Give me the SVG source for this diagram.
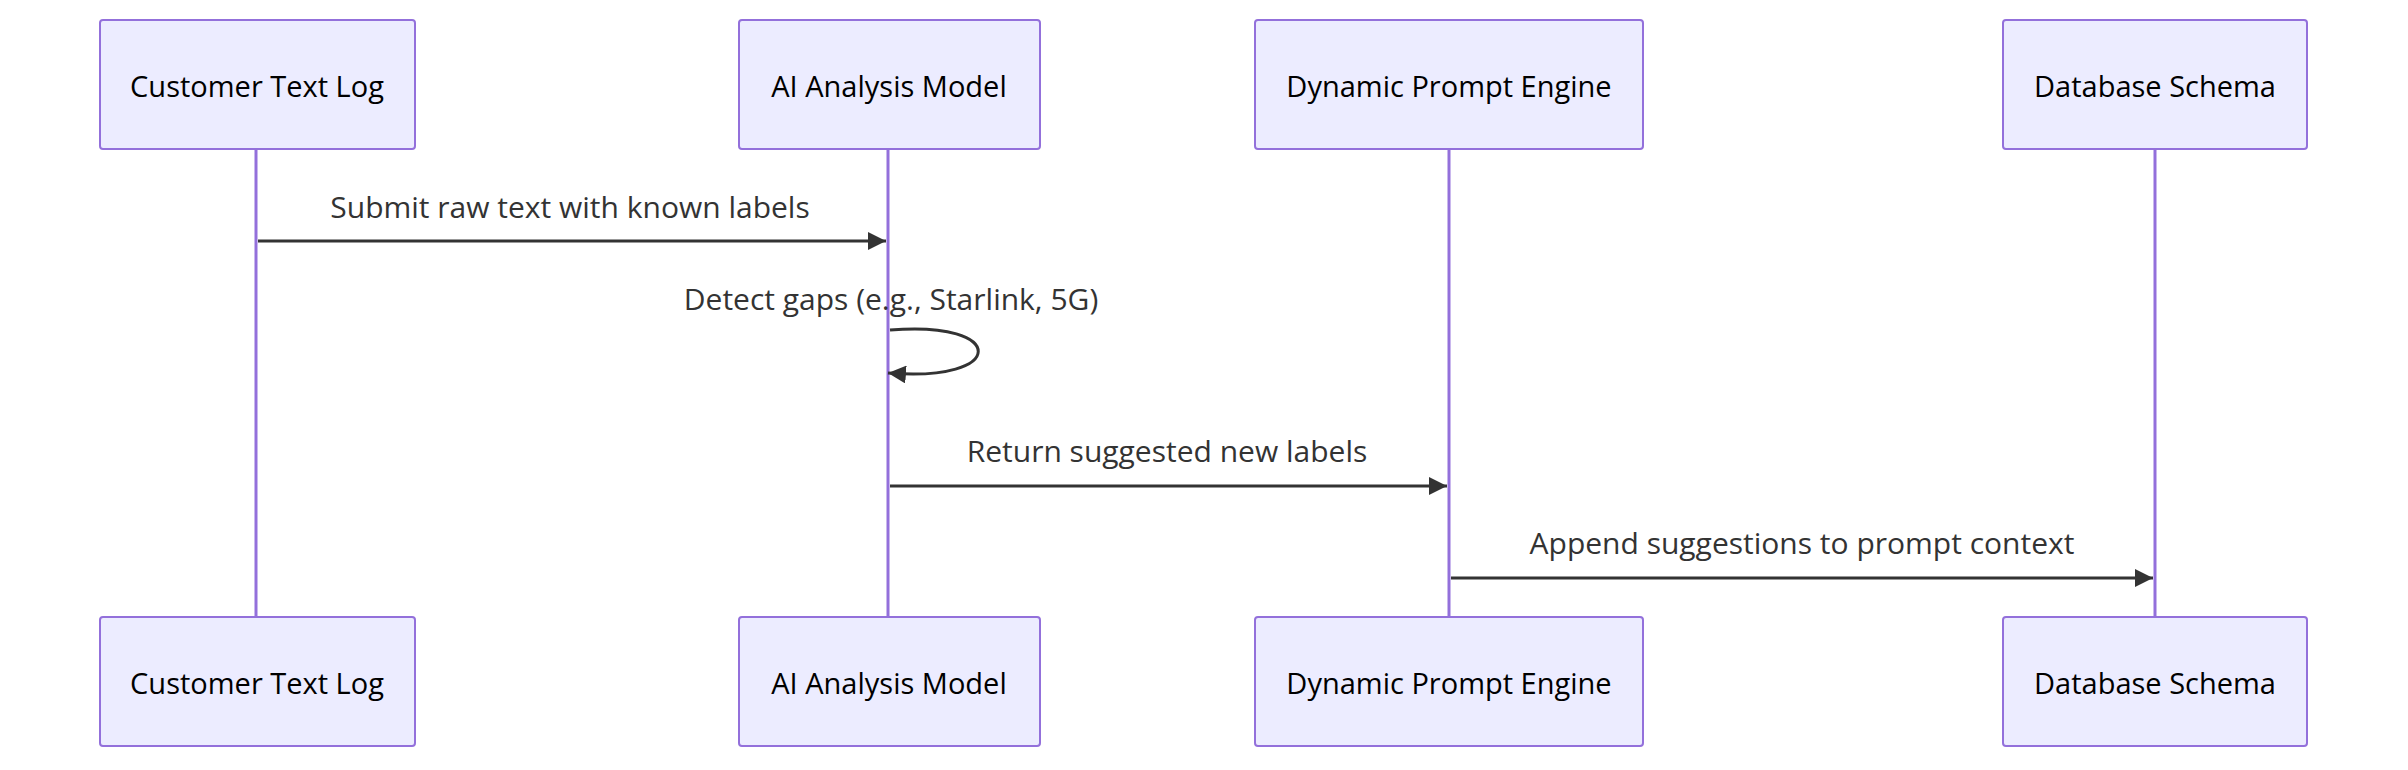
<svg xmlns="http://www.w3.org/2000/svg" width="2408" height="770" viewBox="0 0 2408 770">
<style>
.box{fill:#ECECFF;stroke:#9370DB;stroke-width:2}
.life{stroke:#9370DB;stroke-width:3}
.lbl{font-family:"Open Sans","DejaVu Sans",sans-serif;font-size:29px;fill:#000;text-anchor:middle;dominant-baseline:central}
.msg{font-family:"Open Sans","DejaVu Sans",sans-serif;font-size:30px;fill:#333;text-anchor:middle}
.arr{stroke:#333;stroke-width:3;fill:none}
</style>
<defs><marker id="ah2" viewBox="0 0 16 16" refX="16" refY="8" markerWidth="18" markerHeight="18" markerUnits="userSpaceOnUse" orient="auto"><path d="M0,0L16,8L0,16z" fill="#333"/></marker></defs>
<g id="lifelines">
<line class="life" x1="256" y1="149" x2="256" y2="617"/>
<line class="life" x1="888" y1="149" x2="888" y2="617"/>
<line class="life" x1="1449" y1="149" x2="1449" y2="617"/>
<line class="life" x1="2155" y1="149" x2="2155" y2="617"/>
</g>
<g id="n1"><rect class="box" x="100" y="20" width="315" height="129" rx="3"/><text class="lbl" x="257" y="85">Customer Text Log</text></g>
<g id="n2"><rect class="box" x="739" y="20" width="301" height="129" rx="3"/><text class="lbl" x="889" y="85">AI Analysis Model</text></g>
<g id="n3"><rect class="box" x="1255" y="20" width="388" height="129" rx="3"/><text class="lbl" x="1449" y="85">Dynamic Prompt Engine</text></g>
<g id="n4"><rect class="box" x="2003" y="20" width="304" height="129" rx="3"/><text class="lbl" x="2155" y="85">Database Schema</text></g>
<g id="n1b"><rect class="box" x="100" y="617" width="315" height="129" rx="3"/><text class="lbl" x="257" y="682">Customer Text Log</text></g>
<g id="n2b"><rect class="box" x="739" y="617" width="301" height="129" rx="3"/><text class="lbl" x="889" y="682">AI Analysis Model</text></g>
<g id="n3b"><rect class="box" x="1255" y="617" width="388" height="129" rx="3"/><text class="lbl" x="1449" y="682">Dynamic Prompt Engine</text></g>
<g id="n4b"><rect class="box" x="2003" y="617" width="304" height="129" rx="3"/><text class="lbl" x="2155" y="682">Database Schema</text></g>
<g id="connectors">
<line class="arr" x1="258" y1="241" x2="886" y2="241" marker-end="url(#ah2)"/>
<text class="msg" x="570" y="218">Submit raw text with known labels</text>
<path class="arr" d="M890,330 C1008,320 1008,383 888,373" marker-end="url(#ah2)"/>
<text class="msg" x="891" y="310">Detect gaps (e.g., Starlink, 5G)</text>
<line class="arr" x1="890" y1="486" x2="1447" y2="486" marker-end="url(#ah2)"/>
<text class="msg" x="1167" y="462">Return suggested new labels</text>
<line class="arr" x1="1451" y1="578" x2="2153" y2="578" marker-end="url(#ah2)"/>
<text class="msg" x="1802" y="554">Append suggestions to prompt context</text>
</g>
</svg>
